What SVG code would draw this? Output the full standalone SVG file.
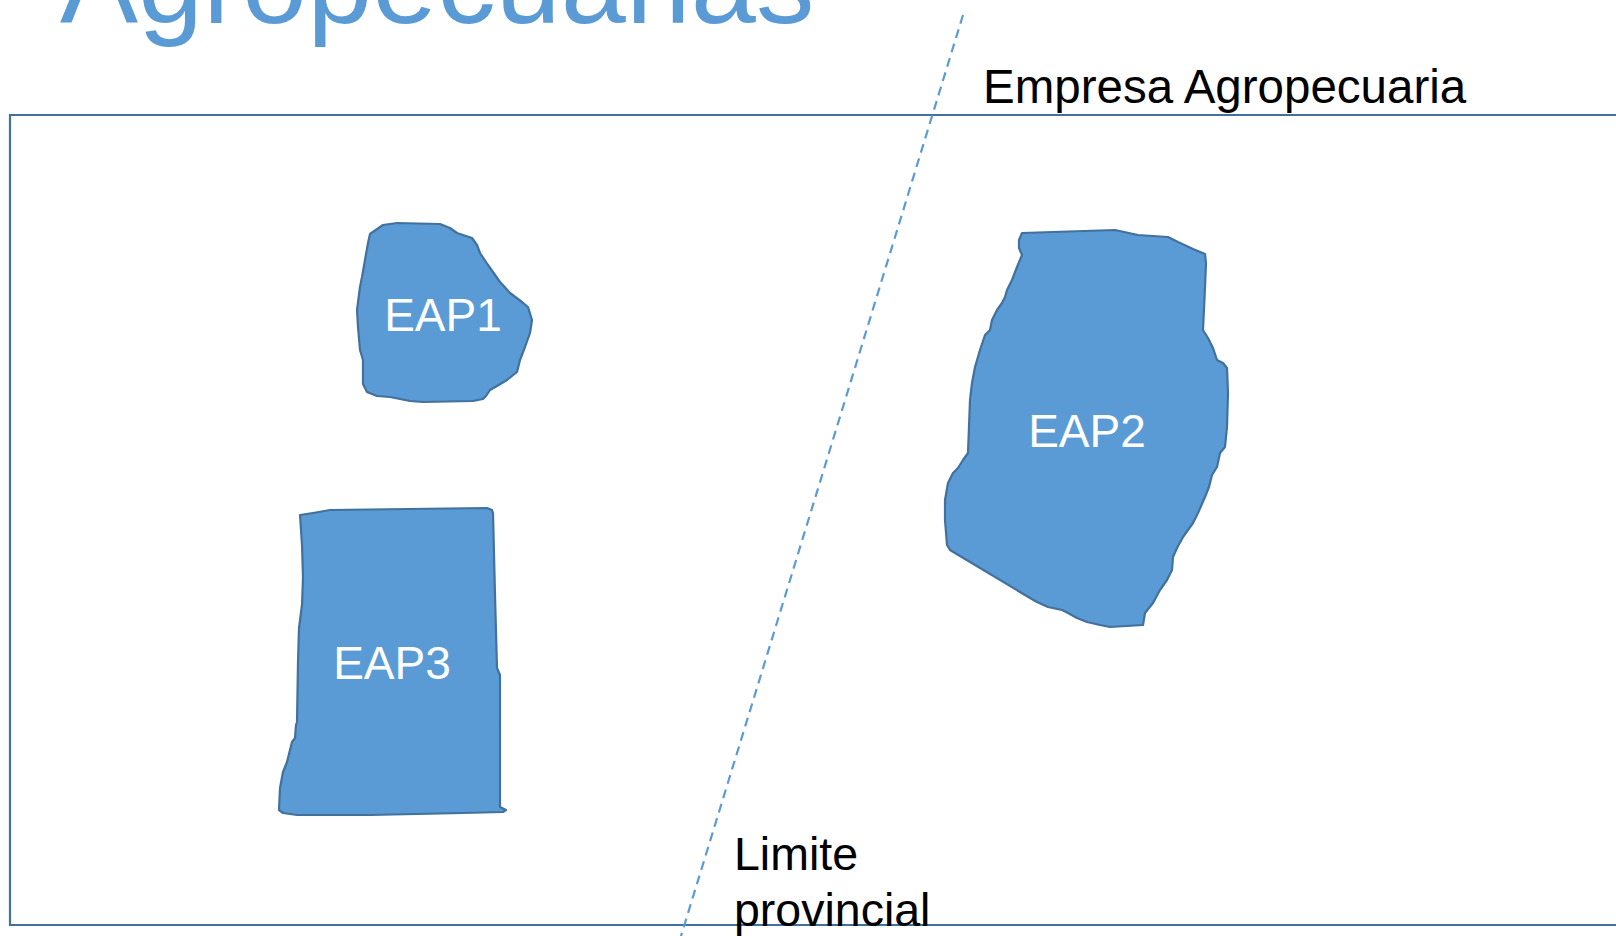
<svg xmlns="http://www.w3.org/2000/svg" width="1616" height="936" viewBox="0 0 1616 936">
<style>
.eap{fill:#5B9BD5;stroke:#41719C;stroke-width:2.2;stroke-linejoin:round}
.lbl{font-family:"Liberation Sans",Arial,sans-serif;font-size:46px;fill:#ffffff;text-anchor:middle}
.txt{font-family:"Liberation Sans",Arial,sans-serif;fill:#000000}
</style>
<rect width="1616" height="936" fill="#ffffff"/>
<text x="60" y="23" font-family="'Liberation Sans',Arial,sans-serif" font-size="117" fill="#5B9BD5">Agropecuarias</text>
<g id="frame">
<path d="M1616,115 H10 V925 H1616" fill="none" stroke="#41719C" stroke-width="2.2"/>
</g>
<g id="connectors">
<line x1="963" y1="15" x2="681" y2="936" stroke="#5B9BD5" stroke-width="2.2" stroke-dasharray="9 6"/>
</g>
<g id="eap1">
<path class="eap" d="M370,234 L383,225 L397,223 L440,224 L450,228 L457,233 L472,238 L477,245 L480,253 L488,265 L500,282 L510,293 L522,302 L528,307 L532,320 L530,333 L525,347 L520,360 L517,372 L507,380 L497,386 L490,390 L486,396 L483,399 L473,401 L423,402 L410,401 L390,397 L377,396 L367,392 L363,384 L363,360 L360,350 L358,327 L357,310 L360,287 L362,277 L365,260 L368,243 Z"/>
<text class="lbl" x="443" y="331">EAP1</text>
</g>
<g id="eap2">
<path class="eap" d="M1022,233 L1115,230 L1138,235 L1168,237 L1178,242 L1193,249 L1205,254 L1206,263 L1205,287 L1203,330 L1208,338 L1213,348 L1217,360 L1223,363 L1227,368 L1228,393 L1227,427 L1225,447 L1220,453 L1217,467 L1212,475 L1209,487 L1205,497 L1198,513 L1193,523 L1183,537 L1177,548 L1173,557 L1172,570 L1167,580 L1160,590 L1153,603 L1145,613 L1143,625 L1110,627 L1100,625 L1087,622 L1077,618 L1068,613 L1062,610 L1048,607 L1037,602 L1030,598 L950,550 L947,545 L945,520 L945,500 L948,483 L953,473 L958,468 L963,460 L968,453 L970,400 L972,383 L975,367 L980,350 L985,335 L990,330 L992,320 L997,310 L1002,303 L1005,297 L1007,290 L1012,280 L1017,267 L1022,255 L1019,248 L1019,240 Z"/>
<text class="lbl" x="1087" y="447">EAP2</text>
</g>
<g id="eap3">
<path class="eap" d="M300,515 L313,513 L330,510 L487,508 L492,510 L493,513 L495,595 L497,668 L500,675 L500,807 L506,810 L503,812 L463,813 L370,815 L297,815 L283,813 L279,810 L280,788 L283,772 L287,762 L292,742 L295,738 L296,725 L297,722 L298,662 L299,628 L302,605 L303,578 L302,545 Z"/>
<text class="lbl" x="392" y="679">EAP3</text>
</g>
<g id="label-empresa">
<text class="txt" x="983" y="103" font-size="47.5">Empresa Agropecuaria</text>
</g>
<g id="label-limite">
<text class="txt" x="734" y="870" font-size="46.5">Limite</text>
<text class="txt" x="734" y="926" font-size="46.5">provincial</text>
</g>
</svg>
